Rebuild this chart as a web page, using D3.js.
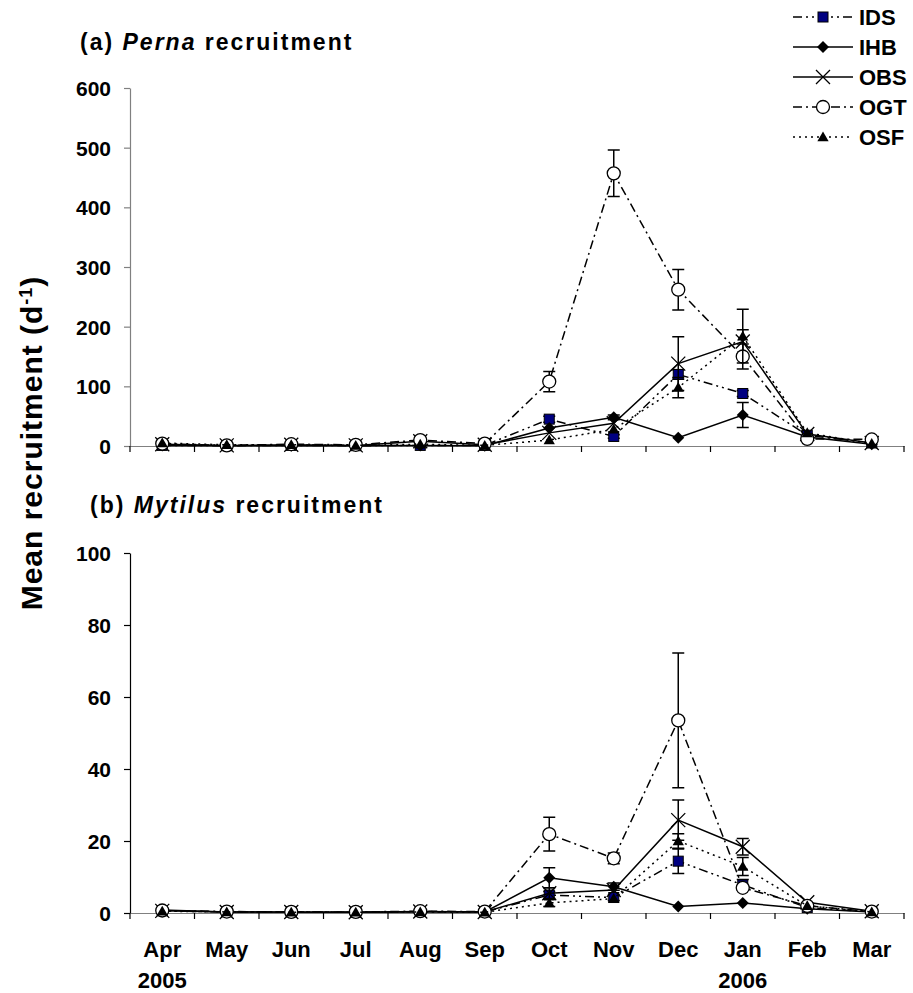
<!DOCTYPE html>
<html>
<head>
<meta charset="utf-8">
<script src="https://cdn.jsdelivr.net/npm/d3@7"></script>
<style>
  body { margin: 0; background: #fff; }
  svg { display: block; }
  text { font-family: "Liberation Sans", Arial, sans-serif; font-weight: bold; fill: #000; }
</style>
</head>
<body>
<svg id="chart" width="913" height="993"></svg>
<script>
// Months of the sampling year (Apr 2005 – Mar 2006)
const months = ["Apr", "May", "Jun", "Jul", "Aug", "Sep", "Oct", "Nov", "Dec", "Jan", "Feb", "Mar"];
const yearLabels = ["2005", "", "", "", "", "", "", "", "", "2006", "", ""];
const sites = ["IDS", "IHB", "OBS", "OGT", "OSF"];

// (a) Perna: mean daily recruitment per site
const pernaIDS = [1, 0.5, 1, 0.5, 1, 1, 45, 16, 120, 88, 18, 5];
const pernaIHB = [1, 0.5, 0.5, 0.5, 1, 0.5, 30, 48, 14, 52, 15, 3];
const pernaOBS = [3, 1, 2, 1, 8, 2, 22, 38, 138, 175, 20, 5];
const pernaOGT = [4, 1, 3, 2, 10, 4, 108, 457, 262, 150, 12, 11];
const pernaOSF = [5, 2, 2, 1, 3, 1, 10, 28, 98, 184, 22, 4];
// (a) Perna: standard errors (0 = not shown)
const pernaErrIDS = [0, 0, 0, 0, 0, 0, 5, 3, 8, 5, 0, 0];
const pernaErrIHB = [0, 0, 0, 0, 0, 0, 0, 4, 0, 21, 0, 0];
const pernaErrOBS = [0, 0, 0, 0, 0, 0, 0, 0, 45, 20, 0, 0];
const pernaErrOGT = [0, 0, 0, 0, 0, 0, 17, 39, 34, 21, 0, 0];
const pernaErrOSF = [0, 0, 0, 0, 0, 0, 0, 0, 17, 45, 0, 0];

// (b) Mytilus: mean daily recruitment per site
const mytilusIDS = [0.6, 0.3, 0.3, 0.2, 0.4, 0.3, 5, 4.3, 14.4, 7.8, 1.5, 0.3];
const mytilusIHB = [0.8, 0.3, 0.2, 0.2, 0.3, 0.3, 9.8, 7.3, 1.8, 2.8, 1.2, 0.3];
const mytilusOBS = [0.6, 0.3, 0.3, 0.2, 0.4, 0.3, 5.5, 6.4, 25.8, 18.4, 3, 0.5];
const mytilusOGT = [0.7, 0.4, 0.3, 0.3, 0.5, 0.4, 21.9, 15.2, 53.5, 7, 2, 0.4];
const mytilusOSF = [0.5, 0.3, 0.2, 0.2, 0.3, 0.2, 2.8, 4, 20, 12.9, 2, 0.3];
// (b) Mytilus: standard errors (0 = not shown)
const mytilusErrIDS = [0, 0, 0, 0, 0, 0, 1, 0.8, 3.4, 1.5, 0, 0];
const mytilusErrIHB = [0, 0, 0, 0, 0, 0, 2.8, 1, 0, 0, 0, 0];
const mytilusErrOBS = [0, 0, 0, 0, 0, 0, 1.5, 0, 5.6, 2.3, 0, 0];
const mytilusErrOGT = [0, 0, 0, 0, 0, 0, 4.7, 1.5, 18.7, 0, 0, 0];
const mytilusErrOSF = [0, 0, 0, 0, 0, 0, 1, 0, 2, 2.5, 0, 0];

// Y axis ticks per panel
const pernaTicks = [0, 100, 200, 300, 400, 500, 600];
const mytilusTicks = [0, 20, 40, 60, 80, 100];

// Line dash and marker for each site
const siteStyle = {
  IDS: { dash: "9,4,2,4,2,4", marker: "square" },
  IHB: { dash: null, marker: "diamond" },
  OBS: { dash: null, marker: "cross" },
  OGT: { dash: "9,4,2,4", marker: "circle" },
  OSF: { dash: "2,4", marker: "triangle" }
};

const svg = d3.select("#chart");
const x = d3.scaleBand().domain(months).range([130, 904]).paddingInner(0).paddingOuter(0);
const cx = m => x(m) + x.bandwidth() / 2;

function drawMarker(g, type, px, py) {
  if (type === "square") {
    g.append("rect").attr("x", px - 5).attr("y", py - 5).attr("width", 10).attr("height", 10)
      .attr("fill", "#000080").attr("stroke", "#000").attr("stroke-width", 1);
  } else if (type === "diamond") {
    g.append("path").attr("d", `M${px},${py - 6}L${px + 6},${py}L${px},${py + 6}L${px - 6},${py}Z`)
      .attr("fill", "#000");
  } else if (type === "cross") {
    g.append("path").attr("d", `M${px - 7},${py - 7}L${px + 7},${py + 7}M${px + 7},${py - 7}L${px - 7},${py + 7}`)
      .attr("stroke", "#000").attr("stroke-width", 1.3).attr("fill", "none");
  } else if (type === "circle") {
    g.append("circle").attr("cx", px).attr("cy", py).attr("r", 6.5)
      .attr("fill", "#fff").attr("stroke", "#000").attr("stroke-width", 1.3);
  } else if (type === "triangle") {
    g.append("path").attr("d", d3.symbol(d3.symbolTriangle, 55)()).attr("transform", `translate(${px},${py + 1})`)
      .attr("fill", "#000");
  }
}

function drawPanel(opt) {
  const y = d3.scaleLinear().domain([0, opt.ymax]).range([opt.bottom, opt.top]);
  const g = svg.append("g");

  // Y axis
  const ya = g.append("g").attr("transform", "translate(130,0)")
    .call(d3.axisLeft(y).tickValues(opt.ticks).tickSize(6).tickPadding(13).tickSizeOuter(0));
  ya.select(".domain").attr("stroke", opt.yAxisColor).attr("stroke-width", 1.2);
  ya.selectAll(".tick line").attr("stroke", opt.yAxisColor).attr("stroke-width", 1.2);
  ya.selectAll(".tick text").style("font-size", "21px").style("font-family", "'Liberation Sans', Arial, sans-serif").style("font-weight", "bold").attr("dy", "0.36em");

  // X axis line with ticks at month boundaries
  const xa = g.append("g").attr("transform", `translate(0,${opt.bottom})`)
    .call(d3.axisBottom(x).tickSize(0).tickSizeOuter(0).tickFormat(opt.showMonths ? (d => d) : () => ""));
  xa.select(".domain").attr("stroke", "#808080").attr("stroke-width", 1.2);
  xa.selectAll(".tick text").style("font-size", "22px").style("font-family", "'Liberation Sans', Arial, sans-serif").style("font-weight", "bold").attr("y", 28);
  const edges = months.map(m => x(m)).concat([x.range()[1]]);
  xa.selectAll(".edge").data(edges).join("line").attr("class", "edge")
    .attr("x1", d => d).attr("x2", d => d).attr("y1", 0).attr("y2", 6)
    .attr("stroke", "#000").attr("stroke-width", 1.2);
  if (opt.showMonths) {
    g.selectAll(".yr").data(months).join("text").attr("class", "yr")
      .attr("x", d => cx(d)).attr("y", 988).attr("text-anchor", "middle")
      .style("font-size", "22px").text((d, i) => yearLabels[i]);
  }

  // Title
  const t = g.append("text").attr("x", opt.titleX).attr("y", opt.titleY).style("font-size", "23px").style("letter-spacing", "2px");
  t.append("tspan").text(opt.titleA + " ");
  t.append("tspan").style("font-style", "italic").text(opt.titleB);
  t.append("tspan").text(" recruitment");

  // Series: lines, error bars, markers (in site order)
  sites.forEach((s, si) => {
    const vals = opt.values[si], errs = opt.errors[si];
    const st = siteStyle[s];
    const line = d3.line().x((d, i) => cx(months[i])).y(d => y(d));
    g.append("path").attr("d", line(vals)).attr("fill", "none").attr("stroke", "#000")
      .attr("stroke-width", 1.5).attr("stroke-dasharray", st.dash);
    const eg = g.append("g");
    vals.forEach((v, i) => {
      const e = errs[i];
      if (!e) return;
      const px = cx(months[i]);
      const y1 = y(v + e), y0 = y(Math.max(0, v - e));
      eg.append("path").attr("d", `M${px},${y1}L${px},${y0}M${px - 6},${y1}L${px + 6},${y1}M${px - 6},${y0}L${px + 6},${y0}`)
        .attr("stroke", "#000").attr("stroke-width", 1.5).attr("fill", "none");
    });
    const mg = g.append("g");
    vals.forEach((v, i) => drawMarker(mg, st.marker, cx(months[i]), y(v)));
  });
}

drawPanel({
  top: 88, bottom: 446, ymax: 600, ticks: pernaTicks, yAxisColor: "#808080",
  values: [pernaIDS, pernaIHB, pernaOBS, pernaOGT, pernaOSF],
  errors: [pernaErrIDS, pernaErrIHB, pernaErrOBS, pernaErrOGT, pernaErrOSF],
  titleA: "(a)", titleB: "Perna", titleX: 80, titleY: 50, showMonths: false
});
drawPanel({
  top: 553, bottom: 913, ymax: 100, ticks: mytilusTicks, yAxisColor: "#000",
  values: [mytilusIDS, mytilusIHB, mytilusOBS, mytilusOGT, mytilusOSF],
  errors: [mytilusErrIDS, mytilusErrIHB, mytilusErrOBS, mytilusErrOGT, mytilusErrOSF],
  titleA: "(b)", titleB: "Mytilus", titleX: 90, titleY: 513, showMonths: true
});

// Shared y-axis title
const yl = svg.append("text").attr("transform", "translate(42,443) rotate(-90)")
  .attr("text-anchor", "middle").style("font-size", "30px").style("letter-spacing", "1px");
yl.append("tspan").text("Mean recruitment (d");
yl.append("tspan").attr("dy", "-0.55em").style("font-size", "18px").text("-1");
yl.append("tspan").attr("dy", "0.33em").text(")");

// Legend
const lg = svg.append("g");
sites.forEach((s, i) => {
  const ly = 17 + i * 30;
  const st = siteStyle[s];
  lg.append("line").attr("x1", 793).attr("x2", 853).attr("y1", ly).attr("y2", ly)
    .attr("stroke", "#000").attr("stroke-width", 1.5).attr("stroke-dasharray", st.dash);
  drawMarker(lg, st.marker, 823, ly);
  lg.append("text").attr("x", 859).attr("y", ly + 8).style("font-size", "22px").text(s);
});
</script>
</body>
</html>
